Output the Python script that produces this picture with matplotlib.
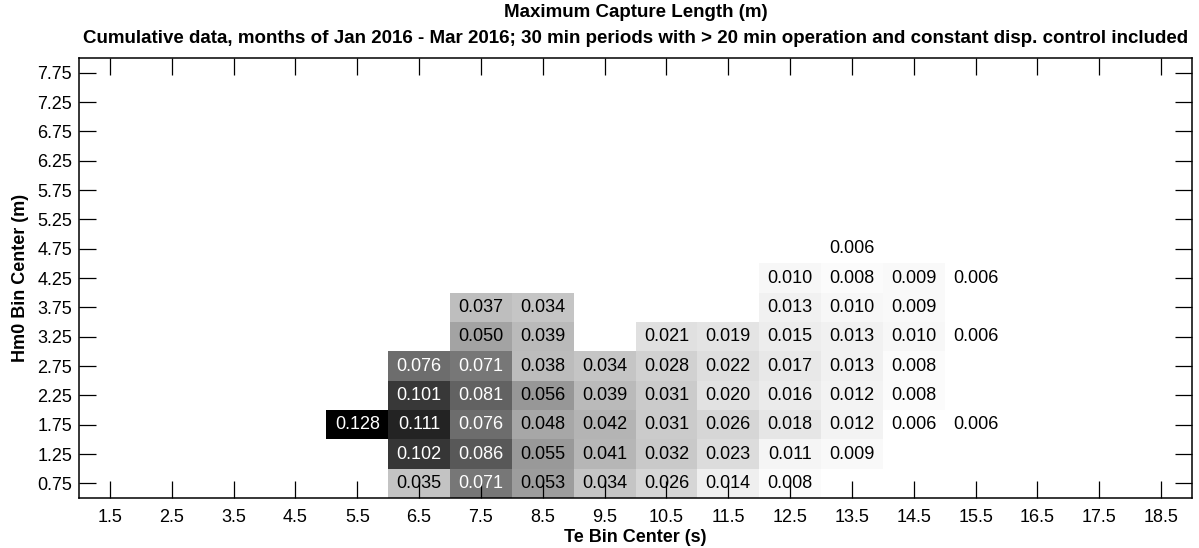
import numpy as np
import matplotlib
matplotlib.use("Agg")
import matplotlib.pyplot as plt

plt.rcParams['font.family'] = ['Liberation Sans', 'DejaVu Sans']

te_centers = [1.5, 2.5, 3.5, 4.5, 5.5, 6.5, 7.5, 8.5, 9.5, 10.5, 11.5, 12.5,
              13.5, 14.5, 15.5, 16.5, 17.5, 18.5]
hm0_centers = [0.75, 1.25, 1.75, 2.25, 2.75, 3.25, 3.75, 4.25, 4.75, 5.25,
               5.75, 6.25, 6.75, 7.25, 7.75]

# values per Hm0 row: dict Te -> value
row_075 = {6.5: 0.035, 7.5: 0.071, 8.5: 0.053, 9.5: 0.034, 10.5: 0.026, 11.5: 0.014, 12.5: 0.008}
row_125 = {6.5: 0.102, 7.5: 0.086, 8.5: 0.055, 9.5: 0.041, 10.5: 0.032, 11.5: 0.023, 12.5: 0.011, 13.5: 0.009}
row_175 = {5.5: 0.128, 6.5: 0.111, 7.5: 0.076, 8.5: 0.048, 9.5: 0.042, 10.5: 0.031, 11.5: 0.026,
           12.5: 0.018, 13.5: 0.012, 14.5: 0.006, 15.5: 0.006}
row_225 = {6.5: 0.101, 7.5: 0.081, 8.5: 0.056, 9.5: 0.039, 10.5: 0.031, 11.5: 0.020, 12.5: 0.016,
           13.5: 0.012, 14.5: 0.008}
row_275 = {6.5: 0.076, 7.5: 0.071, 8.5: 0.038, 9.5: 0.034, 10.5: 0.028, 11.5: 0.022, 12.5: 0.017,
           13.5: 0.013, 14.5: 0.008}
row_325 = {7.5: 0.050, 8.5: 0.039, 10.5: 0.021, 11.5: 0.019, 12.5: 0.015, 13.5: 0.013, 14.5: 0.010,
           15.5: 0.006}
row_375 = {7.5: 0.037, 8.5: 0.034, 12.5: 0.013, 13.5: 0.010, 14.5: 0.009}
row_425 = {12.5: 0.010, 13.5: 0.008, 14.5: 0.009, 15.5: 0.006}
row_475 = {13.5: 0.006}

rows = {0.75: row_075, 1.25: row_125, 1.75: row_175, 2.25: row_225, 2.75: row_275,
        3.25: row_325, 3.75: row_375, 4.25: row_425, 4.75: row_475}

Z = np.full((len(hm0_centers), len(te_centers)), np.nan)
for i, h in enumerate(hm0_centers):
    if h in rows:
        for t, v in rows[h].items():
            Z[i, te_centers.index(t)] = v

te_edges = np.concatenate([[te_centers[0] - 0.5], np.array(te_centers) + 0.5])
hm_edges = np.concatenate([[hm0_centers[0] - 0.25], np.array(hm0_centers) + 0.25])

fig = plt.figure(figsize=(11.99, 5.48), dpi=100)
ax = fig.add_axes([0.0659, 0.0912, 0.9283, 0.8029])

vmin = np.nanmin(Z)
vmax = np.nanmax(Z)
ax.pcolormesh(te_edges, hm_edges, np.ma.masked_invalid(Z), cmap='gray_r', vmin=vmin, vmax=vmax,
              shading='flat', edgecolors='none')

for i, h in enumerate(hm0_centers):
    for j, t in enumerate(te_centers):
        v = Z[i, j]
        if not np.isnan(v):
            col = 'white' if v > 0.06 else 'black'
            ax.text(t, h, f"{v:.3f}", ha='center', va='center', fontsize=13, color=col)

ax.set_xlim(te_edges[0], te_edges[-1])
ax.set_ylim(hm_edges[0], hm_edges[-1])
ax.set_xticks(te_centers)
ax.set_xticklabels([f"{t:.1f}" for t in te_centers])
ax.set_yticks(hm0_centers)
ax.set_yticklabels([f"{h:.2f}" for h in hm0_centers])
ax.tick_params(direction='in', top=True, right=True, length=12, width=0.9, labelsize=13)
ax.tick_params(axis='x', pad=8)
ax.tick_params(axis='y', pad=5)
for s in ax.spines.values():
    s.set_linewidth(1.1)

ax.set_xlabel("Te Bin Center (s)", fontsize=13, fontweight='bold', labelpad=2)
ax.set_ylabel("Hm0 Bin Center (m)", fontsize=13, fontweight='bold', labelpad=6)

fig.text(0.530, 0.977, "Maximum Capture Length (m)", ha='center', va='center',
         fontsize=13.5, fontweight='bold')
fig.text(0.530, 0.930, "Cumulative data, months of Jan 2016 - Mar 2016; 30 min periods with > 20 min operation and constant disp. control included",
         ha='center', va='center', fontsize=13.5, fontweight='bold')

fig.savefig("out.png", dpi=100)
